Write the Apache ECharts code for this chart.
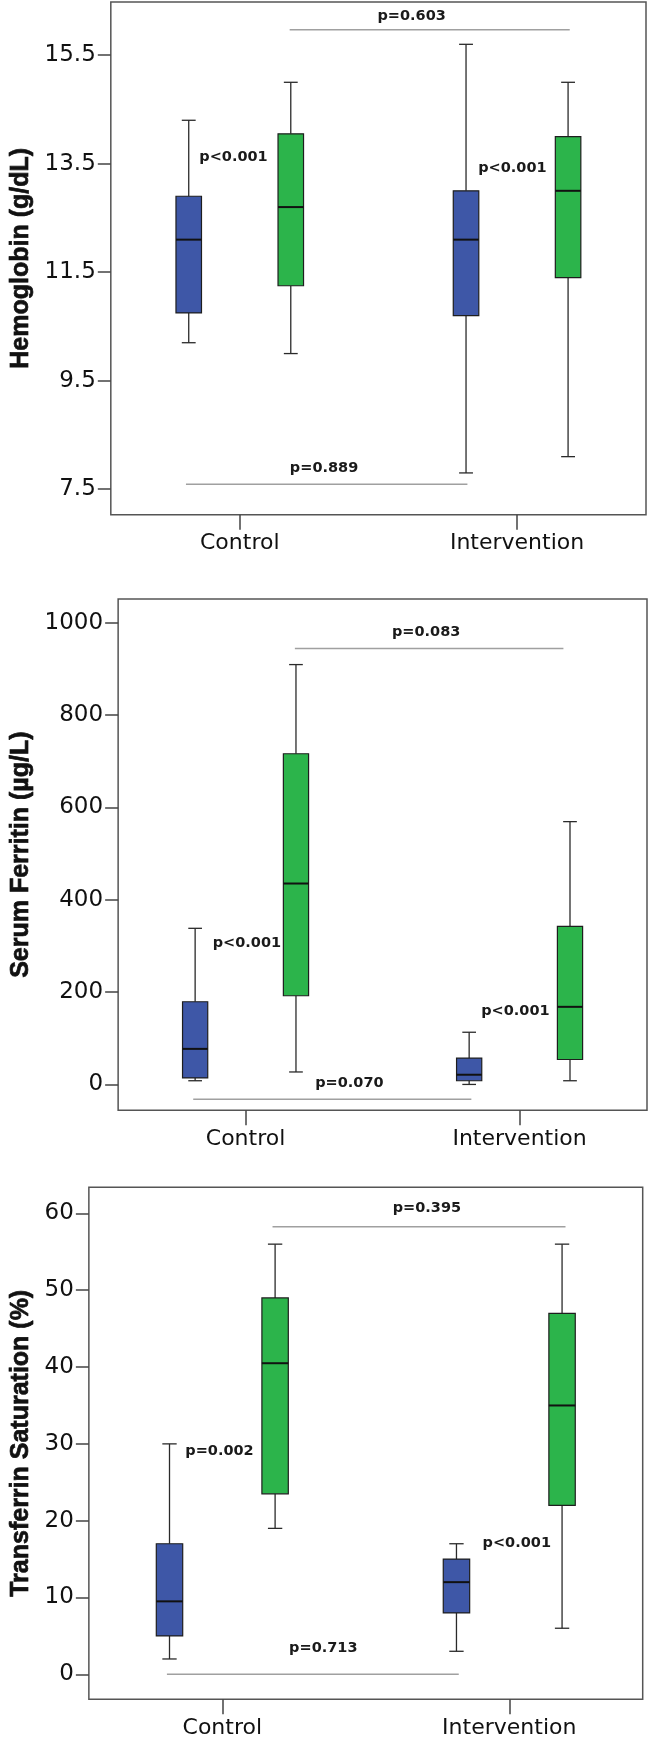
<!DOCTYPE html>
<html><head><meta charset="utf-8">
<script src="https://cdn.jsdelivr.net/npm/echarts@6/dist/echarts.min.js"></script>
<style>html,body{margin:0;padding:0;background:#fff}#c{width:651px;height:1740px}</style>
</head><body><div id="c"></div>
<script>
// ---- data ----
const categories = ['Control', 'Intervention'];
// box stats per category: [min, Q1, median, Q3, max]
const hbBaseline = [[10.2, 10.75, 12.1, 12.9, 14.3], [7.8, 10.7, 12.1, 13.0, 15.7]];
const hbFollowup = [[10.0, 11.25, 12.7, 14.05, 15.0], [8.1, 11.4, 13.0, 14.0, 15.0]];
const hbTicks = [7.5, 9.5, 11.5, 13.5, 15.5];
const hbPLabels = ['p=0.603', 'p<0.001', 'p<0.001', 'p=0.889'];
const hbPPos = [[1.62, 16.22], [0.854, 13.62], [1.86, 13.42], [1.304, 7.88]];
const hbPLines = [[1.18, 2.19, 15.97], [0.806, 1.821, 7.59]];

const ferBaseline = [[8, 14, 77, 179, 338], [0, 8, 21, 57, 113]];
const ferFollowup = [[27, 192, 435, 716, 909], [8, 54, 168, 342, 569]];
const ferTicks = [0, 200, 400, 600, 800, 1000];
const ferPLabels = ['p=0.083', 'p<0.001', 'p<0.001', 'p=0.070'];
const ferPPos = [[1.659, 980], [0.880, 305], [1.860, 158], [1.379, 2]];
const ferPLines = [[1.18, 2.16, 944], [0.809, 1.824, -32]];

const tsBaseline = [[2, 5, 9.5, 17, 30], [3, 8, 12, 15, 17]];
const tsFollowup = [[19, 23.5, 40.5, 49, 56], [6, 22, 35, 47, 56]];
const tsTicks = [0, 10, 20, 30, 40, 50, 60];
const tsPLabels = ['p=0.395', 'p=0.002', 'p<0.001', 'p=0.713'];
const tsPPos = [[1.713, 60.7], [0.871, 29.1], [1.907, 17.1], [1.352, 3.4]];
const tsPLines = [[1.175, 2.196, 58.25], [0.807, 1.824, 0]];

// ---- layout / style ----
const BLUE = '#3e57a7', GREEN = '#2cb44b';
const OFFSET = 0.184, BOX_W = 0.092, CAP_W = 0.05;
const panels = [
  {title: 'Hemoglobin (g/dL)', pre: hbBaseline, post: hbFollowup, ticks: hbTicks, fmt: v => v.toFixed(1),
   yMin: 7.03, yMax: 16.48, grid: {left: 106.7, top: 2, width: 539.3, height: 512.7}, nameGap: 71,
   labels: hbPLabels, pos: hbPPos, lines: hbPLines, align: ['center', 'left', 'left', 'center']},
  {title: 'Serum Ferritin (µg/L)', pre: ferBaseline, post: ferFollowup, ticks: ferTicks, fmt: v => String(v),
   yMin: -56, yMax: 1051, grid: {left: 115.7, top: 599, width: 531.3, height: 511.3}, nameGap: 77,
   labels: ferPLabels, pos: ferPPos, lines: ferPLines, align: ['center', 'left', 'left', 'center']},
  {title: 'Transferrin Saturation (%)', pre: tsBaseline, post: tsFollowup, ticks: tsTicks, fmt: v => String(v),
   yMin: -3.25, yMax: 63.4, grid: {left: 81, top: 1187.3, width: 561.7, height: 512}, nameGap: 49,
   labels: tsPLabels, pos: tsPPos, lines: tsPLines, align: ['center', 'left', 'left', 'center']}
];

function boxRender(params, api) {
  const x = api.value(0);
  const c = i => api.coord([x, api.value(i)]);
  const pMin = c(1), pQ1 = c(2), pMed = c(3), pQ3 = c(4), pMax = c(5);
  const bw = api.size([BOX_W, 0])[0], cw = api.size([CAP_W, 0])[0];
  const cx = pMin[0];
  const color = api.value(6) ? GREEN : BLUE;
  const ls = {stroke: '#2a2a2a', lineWidth: 1.3};
  return {type: 'group', children: [
    {type: 'line', shape: {x1: cx, y1: pMax[1], x2: cx, y2: pQ3[1]}, style: ls},
    {type: 'line', shape: {x1: cx, y1: pQ1[1], x2: cx, y2: pMin[1]}, style: ls},
    {type: 'line', shape: {x1: cx - cw / 2, y1: pMax[1], x2: cx + cw / 2, y2: pMax[1]}, style: ls},
    {type: 'line', shape: {x1: cx - cw / 2, y1: pMin[1], x2: cx + cw / 2, y2: pMin[1]}, style: ls},
    {type: 'rect', shape: {x: cx - bw / 2, y: pQ3[1], width: bw, height: pQ1[1] - pQ3[1]},
     style: {fill: color, stroke: '#1e1e1e', lineWidth: 1.2}},
    {type: 'line', shape: {x1: cx - bw / 2, y1: pMed[1], x2: cx + bw / 2, y2: pMed[1]},
     style: {stroke: '#111', lineWidth: 2}}
  ]};
}

const option = {animation: false, backgroundColor: '#fff', grid: [], xAxis: [], yAxis: [], series: []};
panels.forEach((p, k) => {
  option.grid.push(Object.assign({show: true, borderColor: '#555', borderWidth: 1.5, backgroundColor: 'transparent'}, p.grid));
  option.xAxis.push({
    gridIndex: k, type: 'value', min: 0.535, max: 2.465, position: 'bottom',
    axisLine: {show: false, onZero: false}, splitLine: {show: false},
    axisTick: {show: true, length: 15, lineStyle: {color: '#444', width: 1.5}, customValues: [1, 2]},
    axisLabel: {customValues: [1, 2], formatter: v => categories[Math.round(v) - 1] || '',
      fontFamily: 'DejaVu Sans', fontSize: 22, color: '#111', margin: 18}
  });
  option.yAxis.push({
    gridIndex: k, type: 'value', min: p.yMin, max: p.yMax,
    name: p.title, nameLocation: 'middle', nameRotate: 90, nameGap: p.nameGap,
    nameTextStyle: {fontFamily: 'Liberation Sans', fontWeight: 'bold', fontSize: 25, color: '#111',
      textBorderColor: '#111', textBorderWidth: 0.7},
    axisLine: {show: false, onZero: false}, splitLine: {show: false},
    axisTick: {show: true, length: 13, lineStyle: {color: '#444', width: 1.5}, customValues: p.ticks},
    axisLabel: {customValues: p.ticks, formatter: p.fmt, fontFamily: 'DejaVu Sans', fontSize: 23, color: '#111', margin: 15}
  });
  // significance lines
  option.series.push({
    type: 'custom', xAxisIndex: k, yAxisIndex: k, silent: true,
    data: p.lines,
    renderItem: (params, api) => {
      const a = api.coord([api.value(0), api.value(2)]), b = api.coord([api.value(1), api.value(2)]);
      return {type: 'line', shape: {x1: a[0], y1: a[1], x2: b[0], y2: b[1]}, style: {stroke: '#a0a0a0', lineWidth: 1.5}};
    }
  });
  // boxes
  const boxes = [];
  categories.forEach((cat, i) => {
    boxes.push([i + 1 - OFFSET].concat(p.pre[i], [0]));
    boxes.push([i + 1 + OFFSET].concat(p.post[i], [1]));
  });
  option.series.push({type: 'custom', xAxisIndex: k, yAxisIndex: k, silent: true, data: boxes, renderItem: boxRender});
  // p-value texts
  option.series.push({
    type: 'custom', xAxisIndex: k, yAxisIndex: k, silent: true,
    data: p.pos,
    renderItem: (params, api) => {
      const pt = api.coord([api.value(0), api.value(1)]);
      return {type: 'text', x: pt[0], y: pt[1], style: {text: p.labels[params.dataIndex],
        align: p.align[params.dataIndex], verticalAlign: 'middle',
        font: 'bold 14.5px "DejaVu Sans"', fill: '#1a1a1a'}};
    }
  });
});
const chart = echarts.init(document.getElementById('c'), null, {renderer: 'canvas'});
chart.setOption(option);
</script></body></html>
